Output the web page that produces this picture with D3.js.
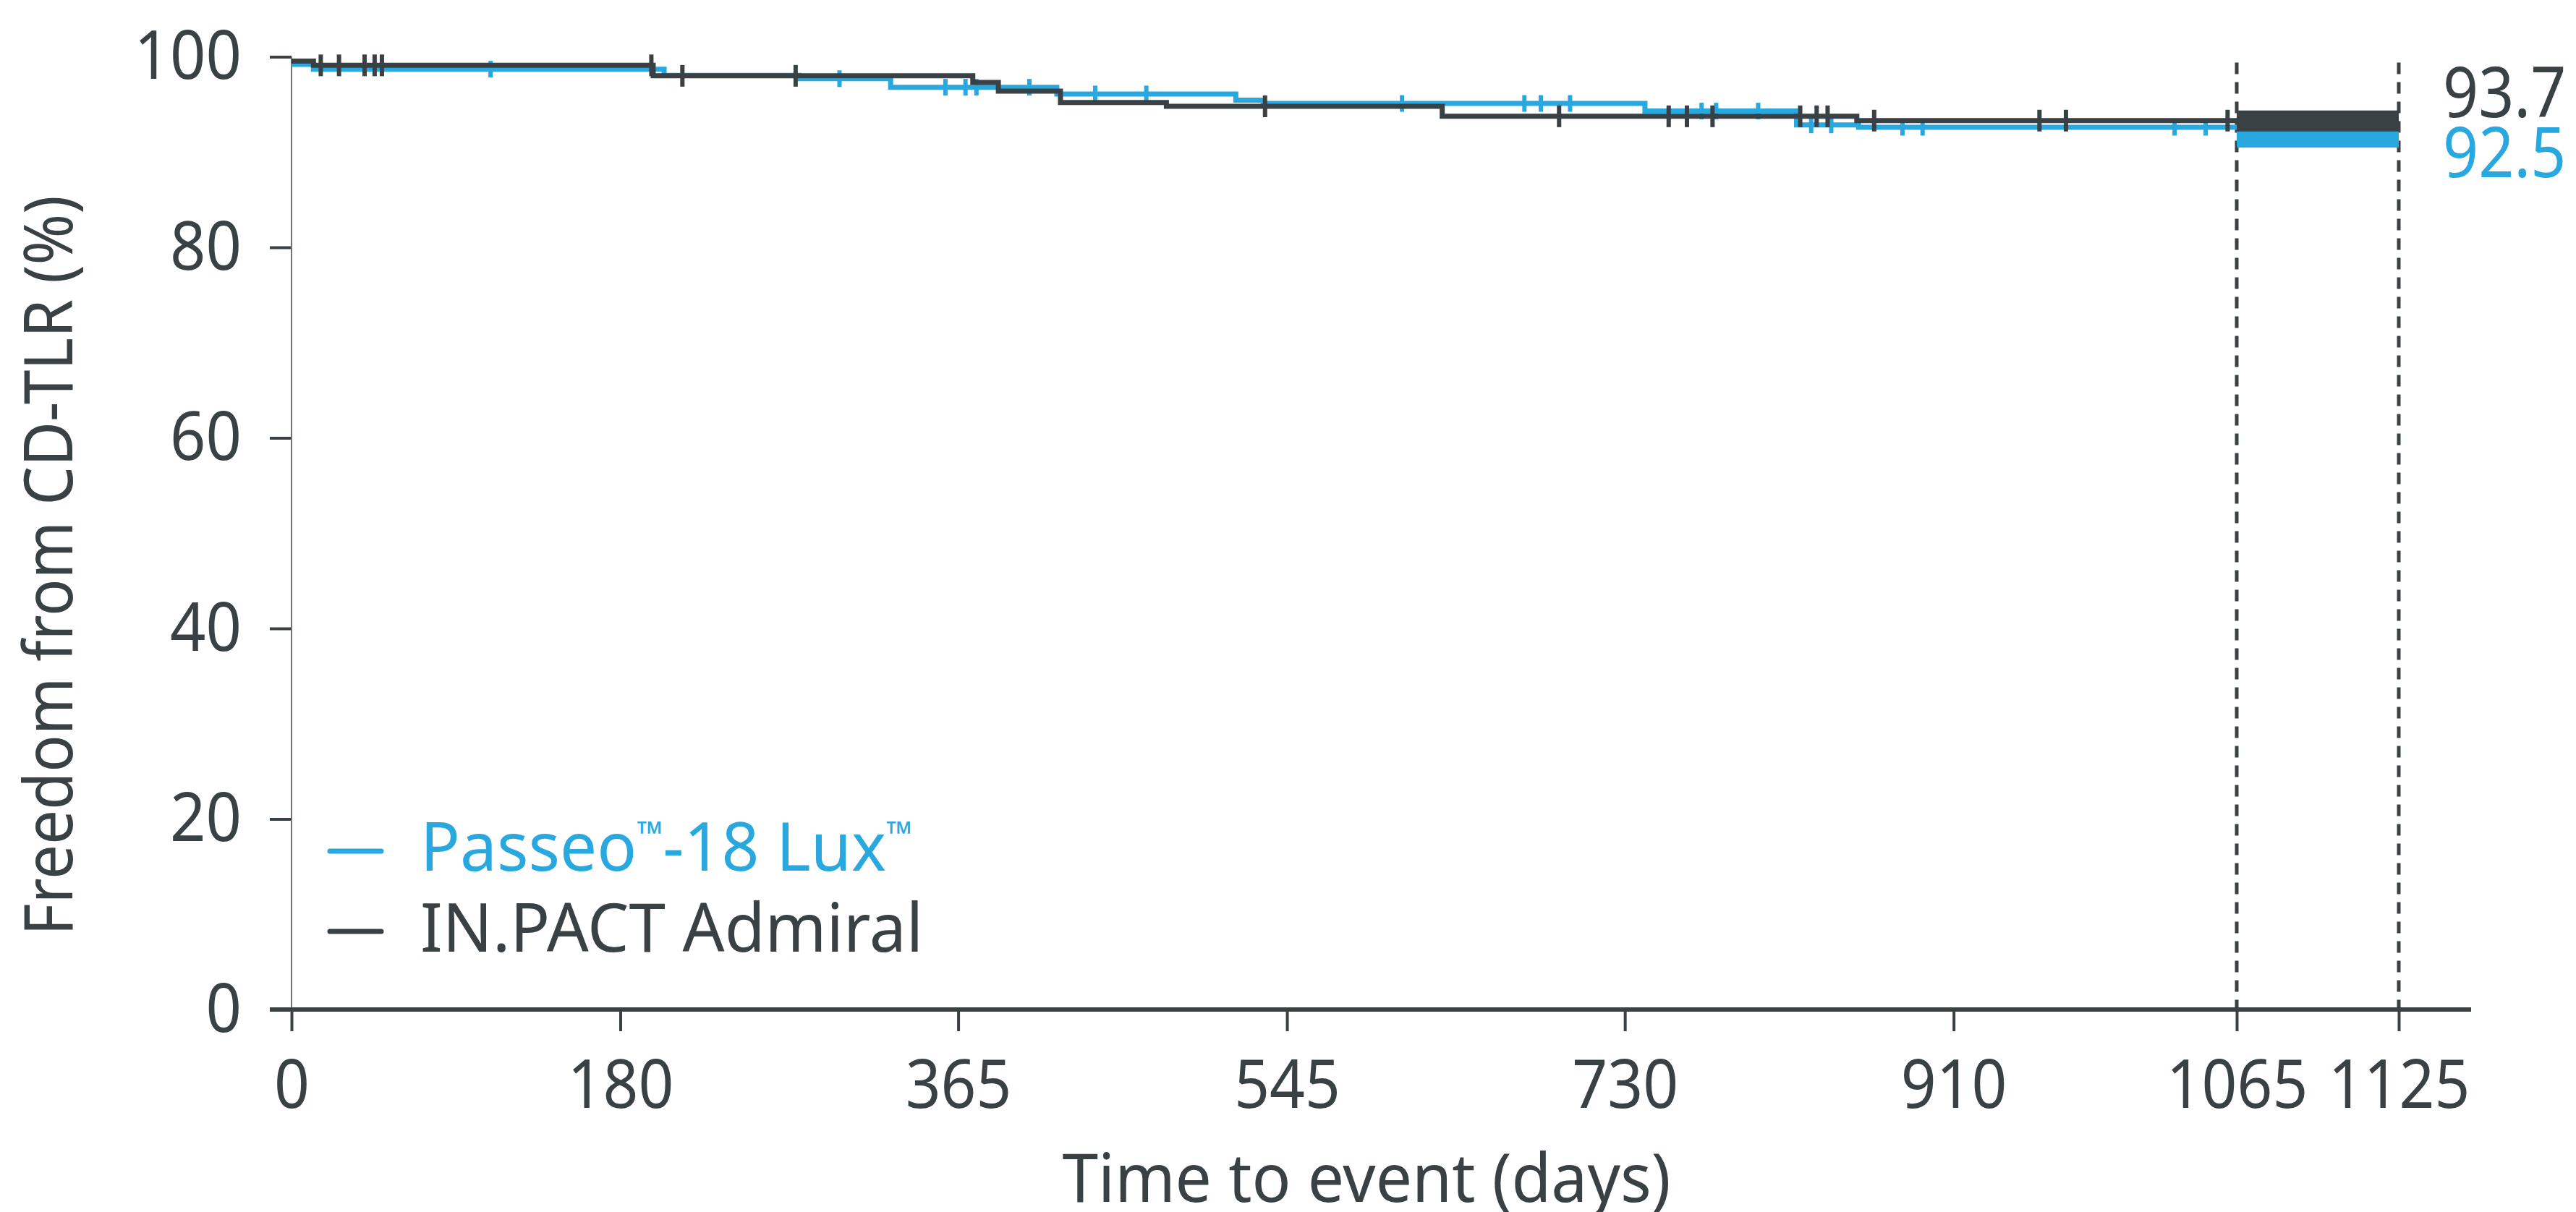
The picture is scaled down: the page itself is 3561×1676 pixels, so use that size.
<!DOCTYPE html>
<html><head><meta charset="utf-8">
<script src="https://cdn.jsdelivr.net/npm/d3@7/dist/d3.min.js"></script>
<style>
body{margin:0;background:#fff}
svg text{font-family:"Noto Sans",sans-serif}
</style>
</head><body>
<svg id="chart" width="3561" height="1676"></svg>
<script>
// ---- data ----
const xTicks = [0, 180, 365, 545, 730, 910, 1065, 1125];
const yTicks = [0, 20, 40, 60, 80, 100];
const seriesNames = ["Passeo", "IN.PACT Admiral"];

const passeoDays   = [0, 12, 204, 278, 328, 419, 517, 532, 741, 824, 858];
const passeoValues = [99.2, 98.7, 98.05, 97.7, 96.8, 96.1, 95.45, 95.1, 94.3, 92.85, 92.6];
const passeoCensor = [109, 300, 358, 369, 375, 404, 440, 468, 608, 675, 684, 700, 772, 780, 803, 832, 843, 882, 893, 1031, 1048];

const admiralDays   = [0, 12, 198, 373, 387, 421, 479, 630, 857];
const admiralValues = [99.55, 99.1, 98.0, 97.3, 96.4, 95.2, 94.8, 93.75, 93.3];
const admiralCensor = [16, 26, 40, 45.5, 49.5, 197, 214, 276, 533, 694, 754, 764, 778, 826, 835, 841, 866.5, 957, 971.5, 1060];

const windowDays = [1065, 1125];
const finalLabels = ["93.7", "92.5"];   // IN.PACT, Passeo

// ---- style ----
const DARK = "#394144", BLUE = "#29a8e0";
const svg = d3.select("#chart");

const x = d3.scaleLinear().domain([0, 1065, 1125]).range([403, 3092, 3316]);
const y = d3.scaleLinear().domain([0, 100]).range([1396, 78.5]);

function stepValue(days, vals, d){
  let v = vals[0];
  for(let i=0;i<days.length;i++){ if(days[i] <= d) v = vals[i]; }
  return v;
}
// the reference face is slightly narrower than Noto Sans
function squeeze(sel, f){
  sel.each(function(){
    const w = this.getComputedTextLength();
    d3.select(this).attr("textLength", w * f).attr("lengthAdjust", "spacingAndGlyphs");
  });
}

// y axis
const yAxis = svg.append("g").attr("transform", `translate(${x(0)},0)`)
  .call(d3.axisLeft(y).tickValues(yTicks).tickFormat(d3.format("d")).tickSize(30).tickPadding(39));
yAxis.select(".domain").remove();
yAxis.selectAll(".tick line").attr("stroke", DARK).attr("stroke-width", 4);
yAxis.selectAll(".tick text").attr("fill", DARK).style("font-size", "94px");
squeeze(yAxis.selectAll(".tick text"), 0.92);
svg.append("line").attr("x1", x(0)).attr("x2", x(0)).attr("y1", y(100)).attr("y2", y(0))
  .attr("stroke", "#6e7375").attr("stroke-width", 2);

// dashed window lines
svg.selectAll(".win").data(windowDays).join("line")
  .attr("x1", d=>x(d)).attr("x2", d=>x(d)).attr("y1", y(100)+8).attr("y2", y(0))
  .attr("stroke", DARK).attr("stroke-width", 5).attr("stroke-dasharray", "16,11");

// x axis
const xAxis = svg.append("g").attr("transform", `translate(0,${y(0)})`)
  .call(d3.axisBottom(x).tickValues(xTicks).tickFormat(d3.format("d")).tickSize(30).tickPadding(39));
xAxis.select(".domain").remove();
xAxis.selectAll(".tick line").attr("stroke", DARK).attr("stroke-width", 4);
xAxis.selectAll(".tick text").attr("fill", DARK).style("font-size", "94px");
squeeze(xAxis.selectAll(".tick text"), 0.91);
svg.append("line").attr("x1", x(0)-30).attr("x2", x(1125)+100).attr("y1", y(0)).attr("y2", y(0))
  .attr("stroke", DARK).attr("stroke-width", 6);

// curves
const line = d3.line().x(d=>x(d[0])).y(d=>y(d[1])).curve(d3.curveStepAfter);
function pts(days, vals){
  const p = days.map((d,i)=>[d, vals[i]]);
  p.push([windowDays[0], vals[vals.length-1]]);
  return p;
}
const series = [
  {name: seriesNames[0], days: passeoDays, vals: passeoValues, cens: passeoCensor, color: BLUE, tick: 23},
  {name: seriesNames[1], days: admiralDays, vals: admiralValues, cens: admiralCensor, color: DARK, tick: 30}
];

// window bands
const last = s => s.vals[s.vals.length-1];
svg.append("rect").attr("x", x(windowDays[0])).attr("width", x(windowDays[1]) - x(windowDays[0]))
  .attr("y", y(last(series[0]))).attr("height", 28).attr("fill", BLUE);
svg.append("rect").attr("x", x(windowDays[0])).attr("width", x(windowDays[1]) - x(windowDays[0]))
  .attr("y", y(last(series[1])) - 14).attr("height", 29).attr("fill", DARK);

series.forEach(s=>{
  svg.append("path").attr("d", line(pts(s.days, s.vals)))
    .attr("fill", "none").attr("stroke", s.color).attr("stroke-width", 7);
  svg.append("g").selectAll("line").data(s.cens).join("line")
    .attr("x1", d=>x(d)).attr("x2", d=>x(d))
    .attr("y1", d=>y(stepValue(s.days, s.vals, d)) - s.tick/2)
    .attr("y2", d=>y(stepValue(s.days, s.vals, d)) + s.tick/2)
    .attr("stroke", s.color).attr("stroke-width", 6);
});

// final labels
const f1 = svg.append("text").attr("x", 3377).attr("y", 162).attr("fill", DARK)
  .style("font-size", "96px").text(finalLabels[0]);
const f2 = svg.append("text").attr("x", 3377).attr("y", 245).attr("fill", BLUE)
  .style("font-size", "96px").text(finalLabels[1]);
squeeze(f1, 0.895); squeeze(f2, 0.895);

// axis titles
const xt = svg.append("text").attr("x", 1889).attr("y", 1662).attr("text-anchor", "middle")
  .attr("fill", DARK).style("font-size", "94px").text("Time to event (days)");
squeeze(xt, 0.95);
const yt = svg.append("text").attr("transform", "translate(100,782) rotate(-90)").attr("text-anchor", "middle")
  .attr("fill", DARK).style("font-size", "94px").text("Freedom from CD-TLR (%)");
squeeze(yt, 0.905);

// legend
const leg = svg.append("g");
[[BLUE, 1177], [DARK, 1288]].forEach(([c, yy])=>{
  leg.append("line").attr("x1", 456).attr("x2", 527).attr("y1", yy).attr("y2", yy)
    .attr("stroke", c).attr("stroke-width", 7).attr("stroke-linecap", "round");
});
const t1 = leg.append("text").attr("x", 581).attr("y", 1204).attr("fill", BLUE).style("font-size", "94px");
t1.append("tspan").text("Passeo");
t1.append("tspan").attr("dy", -34).style("font-size", "48px").text("™");
t1.append("tspan").attr("dy", 34).text("-18 Lux");
t1.append("tspan").attr("dy", -34).style("font-size", "48px").text("™");
squeeze(t1, 0.967);
const t2 = leg.append("text").attr("x", 581).attr("y", 1316).attr("fill", DARK).style("font-size", "94px")
  .text(seriesNames[1]);
squeeze(t2, 0.967);
</script>
</body></html>
